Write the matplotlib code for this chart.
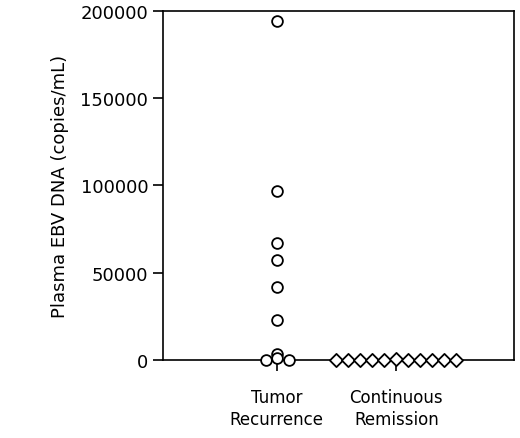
import matplotlib.pyplot as plt
import numpy as np

categories = ["Tumor\nRecurrence", "Continuous\nRemission"]
recurrence = [194000, 97000, 67000, 57000, 42000, 23000, 3500, 0, 1200, 0]
recurrence_offset = [0, 0, 0, 0, 0, 0, 0, -0.09, 0, 0.1]
remission = [0, 0, 0, 0, 0, 600, 0, 0, 0, 0, 0]
y_ticks = [0, 50000, 100000, 150000, 200000]

fig = plt.figure(figsize=(5.2, 4.39), dpi=100)
ax = fig.add_axes([0.313, 0.178, 0.675, 0.795])

x_rec = 1 + np.array(recurrence_offset)
ax.scatter(x_rec, recurrence, s=60, facecolors="white", edgecolors="black",
           linewidths=1.3, zorder=3, clip_on=False)
x_rem = 2 + (np.arange(len(remission)) - 5) * 0.1
ax.scatter(x_rem, remission, s=45, marker="D", facecolors="white", edgecolors="black",
           linewidths=1.3, zorder=3, clip_on=False)

ax.set_xlim(0.05, 2.98)
ax.set_ylim(0, 200000)
ax.set_yticks(y_ticks)
ax.set_yticklabels([str(v) for v in y_ticks], fontsize=13)
ax.set_xticks([1, 2])
ax.set_xticklabels(categories, fontsize=12, linespacing=1.3)
ax.tick_params(axis="x", length=8, width=1.2, pad=12)
ax.tick_params(axis="y", length=7, width=1.2)
for s in ax.spines.values():
    s.set_linewidth(1.2)
ax.set_ylabel("Plasma EBV DNA (copies/mL)", fontsize=13, labelpad=8)

plt.savefig("out.png", dpi=100)
